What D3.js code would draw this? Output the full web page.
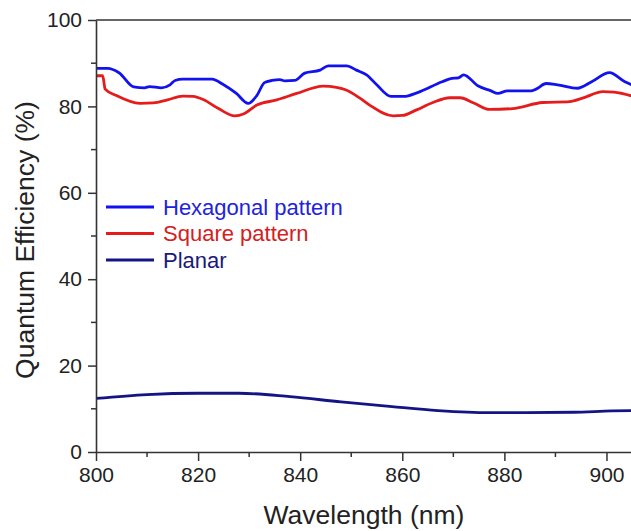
<!DOCTYPE html>
<html>
<head>
<meta charset="utf-8">
<script src="https://cdn.jsdelivr.net/npm/d3@7"></script>
<style>
  html, body { margin: 0; padding: 0; background: #fff; }
  svg { display: block; font-family: "Liberation Sans", Arial, sans-serif; }
</style>
</head>
<body>
<svg id="chart" width="631" height="531"></svg>
<script>
// Wavelength (nm) / quantum efficiency (%) samples for each device
const hexWavelength = [800.2, 802.3, 804.5, 807.4, 809.5, 810.5, 812.8, 814.5, 815.5, 817, 822.7, 825, 827.5, 829.8, 831.5, 833, 834.5, 836, 837, 838.9, 840.9, 843.9, 845.5, 849.1, 851, 853, 855, 857.8, 860.3, 863, 867.8, 869.7, 871, 872, 874.9, 877.4, 878.7, 880.6, 885.2, 886.2, 888.2, 890.4, 894.3, 897.1, 900.6, 903.6, 905];
const hexQE = [88.8, 88.8, 87.8, 84.5, 84.3, 84.6, 84.3, 85.0, 86.0, 86.3, 86.3, 85.0, 83.0, 80.7, 82.5, 85.5, 86.0, 86.2, 85.9, 86.0, 87.7, 88.4, 89.4, 89.4, 88.4, 87.3, 85.0, 82.3, 82.3, 83.2, 85.7, 86.5, 86.6, 87.3, 84.7, 83.6, 83.0, 83.6, 83.6, 84.0, 85.3, 85.0, 84.2, 85.7, 87.8, 85.7, 85.0];

const squareWavelength = [800.2, 801.3, 801.8, 804, 808.6, 811.2, 814, 817, 819, 821, 824, 827.2, 829, 831.5, 835.4, 839.3, 844.5, 847.1, 849, 851.7, 853.6, 858.2, 860, 862.8, 866, 869.3, 871.3, 874, 877.1, 881.6, 887.5, 892.8, 895.3, 899.3, 901.5, 905];
const squareQE = [87.1, 87.1, 84.0, 82.5, 80.7, 80.8, 81.5, 82.4, 82.3, 81.6, 79.5, 77.8, 78.3, 80.3, 81.5, 83.0, 84.7, 84.4, 83.8, 81.9, 80.3, 77.8, 77.9, 79.2, 80.9, 82.0, 82.0, 80.8, 79.3, 79.5, 80.9, 81.1, 81.9, 83.4, 83.3, 82.4];

const planarWavelength = [800, 810, 820, 828, 838, 848, 858, 867, 877, 884, 893.5, 901, 905];
const planarQE = [12.4, 13.3, 13.6, 13.6, 12.8, 11.6, 10.5, 9.6, 9.1, 9.1, 9.2, 9.5, 9.6];

const xTicks = [800, 820, 840, 860, 880, 900];
const yTicks = [0, 20, 40, 60, 80, 100];
const legendLabels = ["Hexagonal pattern", "Square pattern", "Planar"];

const svg = d3.select("#chart");
const plotLeft = 96, plotRight = 632, plotTop = 20, plotBottom = 452;

const x = d3.scaleLinear().domain([800, 905]).range([plotLeft, plotRight]);
const y = d3.scaleLinear().domain([0, 100]).range([plotBottom, plotTop]);

const series = [
  { name: legendLabels[0], xs: hexWavelength, ys: hexQE, color: "#1212ee", text: "#2222dd" },
  { name: legendLabels[1], xs: squareWavelength, ys: squareQE, color: "#e41c1c", text: "#d42020" },
  { name: legendLabels[2], xs: planarWavelength, ys: planarQE, color: "#141485", text: "#1a1a7a" }
];

svg.append("defs").append("clipPath").attr("id", "plot-clip")
  .append("rect").attr("x", plotLeft).attr("y", plotTop)
  .attr("width", plotRight - plotLeft).attr("height", plotBottom - plotTop);

const line = d3.line().x(d => x(d[0])).y(d => y(d[1])).curve(d3.curveMonotoneX);

const plot = svg.append("g").attr("clip-path", "url(#plot-clip)");
series.forEach(s => {
  plot.append("path")
    .datum(s.xs.map((v, i) => [v, s.ys[i]]))
    .attr("fill", "none")
    .attr("stroke", s.color)
    .attr("stroke-width", 2.8)
    .attr("stroke-linejoin", "round")
    .attr("d", line);
});

const axisColor = "#333";

// Bottom axis with minor ticks
const xMinor = d3.range(800, 906, 10).filter(v => v % 20 !== 0);
const gx = svg.append("g").attr("transform", `translate(0,${plotBottom})`);
gx.call(d3.axisBottom(x).tickValues(xTicks).tickSize(9).tickSizeOuter(0).tickPadding(6).tickFormat(d3.format("d")));
gx.append("g").selectAll("line").data(xMinor).join("line")
  .attr("x1", d => x(d)).attr("x2", d => x(d)).attr("y1", 0).attr("y2", 5)
  .attr("stroke", axisColor).attr("stroke-width", 1.5);

// Left axis with minor ticks
const yMinor = d3.range(10, 100, 20);
const gy = svg.append("g").attr("transform", `translate(${plotLeft},0)`);
gy.call(d3.axisLeft(y).tickValues(yTicks).tickSize(8).tickSizeOuter(0).tickPadding(6).tickFormat(d3.format("d")));
gy.append("g").selectAll("line").data(yMinor).join("line")
  .attr("x1", 0).attr("x2", -5).attr("y1", d => y(d)).attr("y2", d => y(d))
  .attr("stroke", axisColor).attr("stroke-width", 1.5);

[gx, gy].forEach(g => {
  g.select(".domain").attr("stroke", axisColor).attr("stroke-width", 1.6);
  g.selectAll(".tick line").attr("stroke", axisColor).attr("stroke-width", 1.5);
  g.selectAll(".tick text").attr("fill", "#222").style("font-size", "21px")
    .style("font-family", "'Liberation Sans', Arial, sans-serif");
});

// Top frame line
svg.append("line").attr("x1", plotLeft).attr("x2", plotRight).attr("y1", plotTop).attr("y2", plotTop)
  .attr("stroke", axisColor).attr("stroke-width", 1.6);

// Axis titles
svg.append("text").attr("x", 364).attr("y", 524).attr("text-anchor", "middle")
  .attr("fill", "#222").style("font-size", "26.5px").text("Wavelength (nm)");
svg.append("text").attr("transform", `translate(34,240) rotate(-90)`).attr("text-anchor", "middle")
  .attr("fill", "#222").style("font-size", "26.5px").text("Quantum Efficiency (%)");

// Legend
const legend = svg.append("g");
series.forEach((s, i) => {
  const ly = 207 + i * 26.5;
  legend.append("line").attr("x1", 106).attr("x2", 154).attr("y1", ly).attr("y2", ly)
    .attr("stroke", s.color).attr("stroke-width", 2.8);
  legend.append("text").attr("x", 163).attr("y", ly).attr("dy", "0.36em")
    .attr("fill", s.text).style("font-size", "22px").text(s.name);
});
</script>
</body>
</html>
